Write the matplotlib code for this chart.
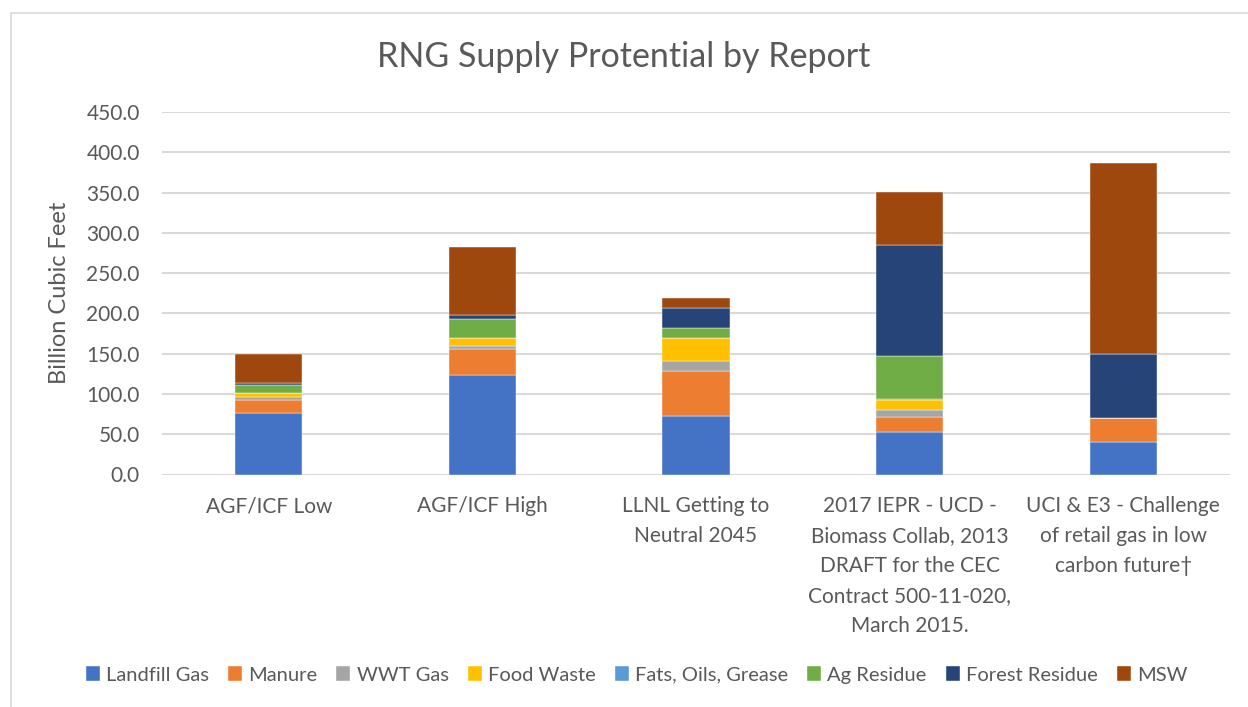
import matplotlib.pyplot as plt
import numpy as np
from matplotlib.patches import Rectangle

plt.rcParams["font.family"] = ["Lato", "DejaVu Sans"]

TEXT_COLOR = "#595959"
GRID_COLOR = "#D9D9D9"

reports = [
    "AGF/ICF Low",
    "AGF/ICF High",
    "LLNL Getting to\nNeutral 2045",
    "2017 IEPR - UCD -\nBiomass Collab, 2013\nDRAFT for the CEC\nContract 500-11-020,\nMarch 2015.",
    "UCI & E3 - Challenge\nof retail gas in low\ncarbon future\u2020",
]

# billion cubic feet
landfill_gas = [76.5, 124.0, 72.3, 52.4, 40.9]
manure = [16.5, 31.7, 56.1, 19.0, 29.8]
wwt_gas = [2.8, 4.2, 12.9, 8.7, 0.0]
food_waste = [5.0, 9.1, 28.5, 12.4, 0.0]
fats_oils_grease = [0.0, 0.0, 0.0, 1.0, 0.0]
ag_residue = [10.4, 24.4, 12.4, 53.1, 0.0]
forest_residue = [2.0, 4.1, 24.3, 138.9, 78.4]
msw = [36.8, 85.5, 12.9, 65.7, 237.7]

series = [
    ("Landfill Gas", landfill_gas, "#4472C4"),
    ("Manure", manure, "#ED7D31"),
    ("WWT Gas", wwt_gas, "#A5A5A5"),
    ("Food Waste", food_waste, "#FFC000"),
    ("Fats, Oils, Grease", fats_oils_grease, "#5B9BD5"),
    ("Ag Residue", ag_residue, "#70AD47"),
    ("Forest Residue", forest_residue, "#264478"),
    ("MSW", msw, "#9E480E"),
]

fig = plt.figure(figsize=(12.48, 7.07), dpi=100)
fig.patches.append(
    Rectangle((11 / 1248, -0.1), 1.2, (707 - 13) / 707 + 0.1,
              transform=fig.transFigure, fill=False, edgecolor=GRID_COLOR, lw=1.2)
)

ax = fig.add_axes([162 / 1248, (707 - 474.5) / 707, (1230 - 162) / 1248, (474.5 - 112) / 707])

x = np.arange(len(reports))
bottom = np.zeros(len(reports))
for name, values, color in series:
    ax.bar(x, values, width=0.314, bottom=bottom, color=color, label=name,
           edgecolor="white", linewidth=0.3, zorder=3)
    bottom += np.array(values)

ax.set_xlim(-0.5, len(reports) - 0.5)
ax.set_ylim(0, 450)
ax.set_yticks(np.arange(0, 451, 50))
ax.set_yticklabels([f"{v:.1f}" for v in np.arange(0, 451, 50)])
ax.set_xticks(x)
ax.set_xticklabels(reports, linespacing=1.63, va="top")
ax.tick_params(axis="both", length=0, labelsize=15, colors=TEXT_COLOR)
ax.tick_params(axis="x", pad=15.5)
ax.tick_params(axis="y", pad=16)
ax.grid(axis="y", color=GRID_COLOR, lw=1.5, zorder=0)
for spine in ax.spines.values():
    spine.set_visible(False)

ax.set_ylabel("Billion Cubic Feet", fontsize=17, color=TEXT_COLOR, labelpad=12)
fig.text(0.5, (707 - 57) / 707, "RNG Supply Protential by Report",
         ha="center", va="center", fontsize=24.5, color=TEXT_COLOR)

fig.legend(loc="center", bbox_to_anchor=(0.51, (707 - 675) / 707), ncol=8,
           frameon=False, fontsize=14.5, labelcolor=TEXT_COLOR,
           handlelength=0.7, handleheight=0.7, handletextpad=0.3,
           columnspacing=0.95)

fig.savefig("out.png", dpi=100)
